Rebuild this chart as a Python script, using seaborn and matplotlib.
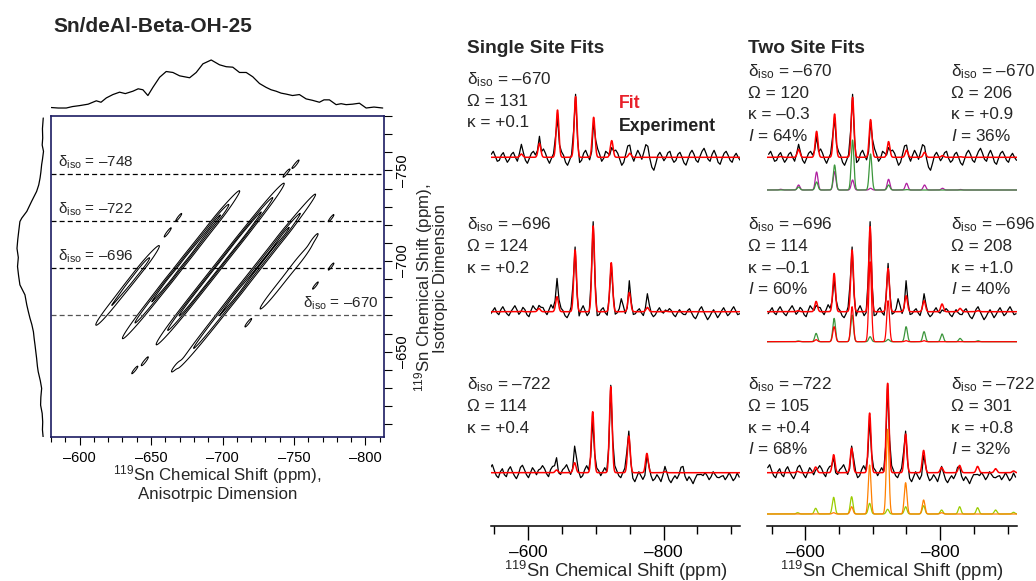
import numpy as np
import pandas as pd
import matplotlib
matplotlib.use("Agg")
import matplotlib.pyplot as plt
import seaborn as sns

sns.set_theme(style="white")
plt.rcParams["font.family"] = ["Liberation Sans", "DejaVu Sans"]
plt.rcParams["mathtext.fontset"] = "custom"
plt.rcParams["mathtext.rm"] = "Liberation Sans"
plt.rcParams["mathtext.it"] = "Liberation Sans:italic"
plt.rcParams["mathtext.bf"] = "Liberation Sans:bold"
plt.rcParams["axes.unicode_minus"] = False

# ---------------- data ----------------
title = "Sn/deAl-Beta-OH-25"

# 2D PASS spectrum: isotropic slices and sideband ridges
iso_lines = [-748, -722, -696, -670]
ridge_offset = [53, 27, 0, -28, -53]          # anisotropic - isotropic shift (ppm)
ridge_amp = [0.45, 0.80, 1.00, 0.75, 0.32]
ridge_iso_center = [-686.5, -698, -698.4, -689, -691.5]
ridge_iso_half = [21.4, 35.9, 38, 42.6, 19.2]
# local intensity lumps along the ridges (ridge index, isotropic shift, extra intensity)
knot_ridge = [0, 0, 1, 1, 1, 2, 3, 3, 4]
knot_iso = [-697, -688, -689.5, -702.5, -724.6, -712, -716, -682, -700]
knot_amp = [0.16, 0.12, 0.18, 0.12, 0.16, 0.1, 0.16, 0.14, 0.08]
blob_x = [-751.5, -744.5, -669.5, -661.8, -776.0, -764.3, -776.0, -765.0, -717.7, -666.9, -645.5, -638.5]
blob_y = [-753.7, -748.4, -724.3, -716.0, -723.7, -712.7, -697.0, -686.5, -665.7, -641.7, -644.5, -639.9]
contour_levels = [0.15, 0.42, 0.72]

top_ppm = [-580.2, -585, -590.7, -595, -600, -606, -611.7, -615, -618.7, -623.3, -628, -632, -637.3,
           -641, -644.3, -647.8, -651.3, -656, -660.6, -665.3, -670, -677, -681.6, -686.3, -692.1,
           -697.9, -702.6, -707.2, -711.9, -716.6, -721.2, -725.9, -730.5, -734, -737.5, -741,
           -744.5, -749, -753.8, -758.5, -763, -767.8, -771, -774.8, -779.5, -783, -786.5, -791,
           -795.8, -800.5, -806, -812.1]
top_int = [0.01, 0.0, 0.0, 0.03, 0.05, 0.08, 0.15, 0.12, 0.21, 0.28, 0.33, 0.30, 0.35,
           0.40, 0.38, 0.26, 0.43, 0.64, 0.76, 0.74, 0.67, 0.63, 0.74, 0.92, 1.0,
           0.90, 0.86, 0.85, 0.74, 0.74, 0.65, 0.51, 0.43, 0.38, 0.35, 0.31,
           0.29, 0.26, 0.28, 0.19, 0.16, 0.12, 0.17, 0.17, 0.07, 0.09, 0.07, 0.08,
           0.10, 0.0, 0.02, 0.0]

left_ppm = [-778.9, -773, -767.9, -764, -760.5, -756, -753.2, -749, -745.8, -742, -738.4, -732.9,
            -727.4, -723.7, -721.8, -717, -712, -707, -702, -697, -692, -686.9, -681.4, -675.8,
            -672, -668.5, -665, -661, -657, -653.7, -650, -646.4, -642, -639, -634, -629.8,
            -625, -620.6, -616, -611.3, -607, -602.2]
left_int = [0.01, 0.04, 0.03, 0.05, 0.0, 0.04, 0.07, 0.10, 0.13, 0.18, 0.26, 0.45,
            0.63, 0.82, 0.89, 0.93, 0.97, 1.0, 0.95, 0.98, 0.94, 0.89, 0.70, 0.63,
            0.57, 0.51, 0.44, 0.38, 0.35, 0.32, 0.29, 0.26, 0.23, 0.20, 0.12, 0.07,
            0.10, 0.11, 0.05, 0.03, 0.04, 0.01]

x2d_major = [-600, -650, -700, -750, -800]
y2d_major = [-650, -700, -750]

# 1D slices: spinning sideband intensities, orders +5 ... -7
sideband_spacing = 26.7
line_sigma = 2.0
orders = [5, 4, 3, 2, 1, 0, -1, -2, -3, -4, -5, -6, -7]
row_iso = [-670, -696, -722]

single_omega = [131, 124, 114]
single_kappa = ["+0.1", "+0.2", "+0.4"]
single_int = [
    [0, 0, 3.3, 14, 47.3, 60.7, 40, 16.7, 4, 0, 0, 0, 0],
    [0, 0.5, 3.3, 15, 61.7, 85.7, 49, 19.3, 4.3, 0.5, 0, 0, 0],
    [0, 0, 2.7, 10, 61, 86, 36.7, 19.3, 1, 0, 0, 0, 0],
]
site1_omega = [120, 114, 105]
site1_kappa = ["–0.3", "–0.1", "+0.4"]
site1_pop = [64, 60, 68]
site1_int = [
    [0, 0, 3, 8, 25, 50, 36, 5, 0.5, 0, 0, 0, 0],
    [0, 0.3, 2, 15, 35, 80, 41, 1, 1, 0, 0, 0, 0],
    [0, 0, 1.3, 7.3, 49, 84.7, 31.3, 14, 1.3, 0, 0, 0, 0],
]
site2_omega = [206, 208, 301]
site2_kappa = ["+0.9", "+1.0", "+0.8"]
site2_pop = [36, 40, 32]
site2_int = [
    [0, 0.7, 5, 18, 18.3, 10, 1.7, 10.7, 6.7, 5, 1.7, 0.5, 0],
    [0, 0.7, 8.3, 23.3, 26.7, 5, 2.3, 15, 10, 7.7, 3.3, 1, 0],
    [1.3, 5.7, 16.7, 17.3, 10.7, 4.7, 7.3, 8.3, 4, 7.3, 6.3, 4, 1.7],
]
site1_color = ["#3c963c", "#ff0000", "#ff8000"]
site2_color = ["#b01fa0", "#3c963c", "#9acd00"]

# experimental residual (experiment minus two-site fit), one value per sample
exp_noise = [
    [3, 6, 1, -4, -3, 2, 4, -1, -5, -2, 3, 5, 0, -4, 1, 5, 2, -3, -6, -1, 4, 6, 2, -2, -5,
     -3, 8, 4, -2, -6, -1, 3, 6, -4, -2, 5, 2, -5, -8, -3, 2, 6, 3, -2, -6, -3, 4, 7, 2, -3,
     -7, -2, 5, 8, 3, -4, -1, 6, 4, -3, -6, 1, 7, 4, -2, -8, -5, 3, 9, 5, -1, -4, 2, 7, 3,
     -2, 5, 11, 6, -3, -10, -13, -6, 2, 5, 1, -4, -2, 4, 6, -1, -5, -3, 3, 5, 0, -6, -8, -2, 4,
     7, 3, -3, -5, 1, 6, 9, 4, -2, -4, 3, 7, 2, -5, -7, -1, 4, 6, 2, -3, -5, 1, 4, 0, -3],
    [-2, 1, 4, -1, -3, 2, 5, 1, -2, -4, 0, 3, 6, 2, -3, -1, 4, 2, -3, -5, 1, 6, 3, -2, -4,
     1, 4, 0, -3, 2, 7, 3, -2, -5, -1, 3, 1, -4, -6, -2, 4, 8, 3, -3, -5, 2, 6, 1, -4, -2,
     3, 5, 0, -5, -3, 2, 4, -1, -4, 1, 5, 2, -3, -1, 3, 13, 6, -2, -1, 15, 4, -3, -2, 1, 3,
     -1, -4, 0, 7, 3, -2, -5, -3, 1, 4, 0, -4, -6, -2, 3, 1, -3, -5, -1, 2, -2, -6, -4, 1, 3,
     -1, -5, -7, -3, 2, 4, 0, -4, -8, -5, -1, 2, -2, -6, -3, 1, 4, 0, -4, -2, 2, 5, 1, -3, -2],
    [5, 8, 2, -3, -5, 1, 4, -2, -4, 3, 6, 1, -3, -6, -2, 4, 7, 3, -2, -5, 0, 5, 2, -4, -3,
     2, 7, 4, -1, -4, 3, 6, 1, -3, -6, -2, 3, 5, 8, 3, -2, -4, 2, 6, 1, -5, -3, 3, 7, 2,
     -4, -6, -1, 4, 2, -3, 1, 5, 0, -4, -2, 3, 6, 2, -3, -5, 0, 4, 8, 3, -2, -6, -9, -4, 1,
     -3, -7, -10, -5, 0, -3, -8, -6, -2, -5, -9, -4, 1, -2, -7, -10, -6, -3, -6, -2, 3, -1, -6, -8, -4,
     -7, -11, -6, -2, -4, -8, -5, 0, -3, -7, -4, 1, -2, -6, -9, -5, -3, -7, -4, 0, -4, -8, -6, -2, -5],
]
spec_major = [-600, -800]
spec_minor = [-550, -650, -700, -750, -850, -900]


def dash(v):
    return ("–" if v < 0 else "") + str(abs(v))


# ---------------- layout helpers ----------------
W, H = 1036, 581
fig = plt.figure(figsize=(W / 100, H / 100), dpi=100)


def px_axes(l, t, r, b):
    return fig.add_axes([l / W, 1 - b / H, (r - l) / W, (b - t) / H])


def ftext(x, y, s, **kw):
    kw.setdefault("va", "baseline")
    return fig.text(x / W, 1 - y / H, s, **kw)


def draw(ax, x, y, color, lw):
    sns.lineplot(x=np.asarray(x), y=np.asarray(y), ax=ax, color=color, lw=lw,
                 sort=False, estimator=None, legend=False)


# ---------------- 2D contour panel ----------------
navy = "#1c1c62"
ax2d = px_axes(51, 116, 384, 437)
xg = np.linspace(-813, -580, 800)
yg = np.linspace(-780, -603, 620)
X, Y = np.meshgrid(xg, yg)
U = X - Y
V = (X + Y) / 2
Z = np.zeros_like(X)
SU = 1.7
for off, a, yc, hy in zip(ridge_offset, ridge_amp, ridge_iso_center, ridge_iso_half):
    Z += a * np.exp(-0.5 * ((U - off) / SU) ** 2) * np.exp(-((Y - yc) / hy) ** 4)
for ri, ky, ka in zip(knot_ridge, knot_iso, knot_amp):
    Z += ka * np.exp(-0.5 * ((U - ridge_offset[ri]) / SU) ** 2 - 0.5 * ((Y - ky) / 4.0) ** 2)
for bx, by in zip(blob_x, blob_y):
    Z += 0.2 * np.exp(-0.5 * ((U - (bx - by)) / 1.0) ** 2 - 0.5 * ((V - (bx + by) / 2) / 2.6) ** 2)
ax2d.contour(X, Y, Z, levels=contour_levels, colors="black", linewidths=0.75)
for v in iso_lines:
    ax2d.axhline(v, color="#555555" if v == -670 else "black", lw=0.9, ls=(0, (4, 2.5)))
label_x = [-584.6, -584.6, -584.6, -756.6]
for v, lx in zip(iso_lines, label_x):
    ax2d.text(lx, v - 4.3, "δ$_{\\rm iso}$ = " + dash(v), fontsize=11, va="baseline", ha="left")
ax2d.set_xlim(-580, -813)
ax2d.set_ylim(-603, -780)
ax2d.set_xticks(x2d_major)
ax2d.set_xticklabels([dash(v) for v in x2d_major])
ax2d.set_xticks(np.arange(-580, -811, -10), minor=True)
ax2d.yaxis.tick_right()
ax2d.set_yticks(y2d_major)
ax2d.set_yticklabels([dash(v) for v in y2d_major], rotation=90, va="center")
ax2d.set_yticks(np.arange(-610, -781, -10), minor=True)
ax2d.tick_params(axis="x", which="both", bottom=True, top=False, direction="out",
                 colors="black", labelsize=10.5, width=0.8, pad=4)
ax2d.tick_params(axis="x", which="major", length=5.8)
ax2d.tick_params(axis="x", which="minor", length=3.6)
ax2d.tick_params(axis="y", which="both", right=True, left=False, labelright=True, labelleft=False,
                 direction="out", colors="black", labelsize=10.5, width=0.8, length=5.5, pad=3)
for s in ax2d.spines.values():
    s.set_color(navy)
    s.set_linewidth(1.2)
    s.set_visible(True)

ftext(217.5, 480, "$^{119}$Sn Chemical Shift (ppm),", ha="center", fontsize=12.2)
ftext(217.5, 499.3, "Anisotrpic Dimension", ha="center", fontsize=12.2)
ftext(424, 287.5, "$^{119}$Sn Chemical Shift (ppm),", ha="center", va="center", rotation=90, fontsize=12.2)
ftext(441, 278, "Isotropic Dimension", ha="center", va="center", rotation=90, fontsize=12.2)

# projections
axT = px_axes(51, 56, 384, 112)
draw(axT, top_ppm, top_int, "black", 0.9)
axT.set_xlim(-580, -813)
axT.set_ylim(-0.083, 1.083)
axT.axis("off")

axL = px_axes(15, 116, 46, 437)
draw(axL, left_int, left_ppm, "black", 0.9)
axL.set_xlim(1.075, -0.094)
axL.set_ylim(-603, -780)
axL.axis("off")

ftext(53, 31.7, title, fontsize=15, fontweight="bold")

# ---------------- 1D slice panels ----------------
def spec(x, iso, ints):
    out = np.zeros_like(x, dtype=float)
    for n, a in zip(orders, ints):
        out += a * np.exp(-0.5 * ((x - (iso + sideband_spacing * n)) / line_sigma) ** 2)
    return out


AX_BOTTOM = 526
fit_base = [157.3, 311.7, 472.7]
comp_base = [190, 341.7, 514]

axS = px_axes(491, 30, 740, AX_BOTTOM)
axD = px_axes(767, 30, 1017, AX_BOTTOM)
x_fine = np.linspace(-540, -920, 2400)
step = sideband_spacing / 9

for r, iso in enumerate(row_iso):
    noise = np.asarray(exp_noise[r], dtype=float)
    kmax = int(np.floor((-543 - iso) / step))
    xe = iso + step * (kmax - np.arange(len(noise)))
    exp_y = spec(xe, iso, site1_int[r]) + spec(xe, iso, site2_int[r]) + noise
    yb = AX_BOTTOM - fit_base[r]
    cb = AX_BOTTOM - comp_base[r]
    # single site
    draw(axS, xe, yb + exp_y, "black", 0.9)
    draw(axS, x_fine, yb + spec(x_fine, iso, single_int[r]), "#ff0000", 1.1)
    # two site
    s1 = spec(x_fine, iso, site1_int[r])
    s2 = spec(x_fine, iso, site2_int[r])
    draw(axD, xe, yb + exp_y, "black", 0.9)
    draw(axD, x_fine, yb + s1 + s2, "#ff0000", 1.1)
    draw(axD, x_fine, cb + s2, site2_color[r], 0.9)
    draw(axD, x_fine, cb + s1, site1_color[r], 0.9)

for ax, xl in ((axS, (-545, -913)), (axD, (-543, -914))):
    ax.set_xlim(*xl)
    ax.set_ylim(0, AX_BOTTOM - 30)
    for k in ("top", "left", "right"):
        ax.spines[k].set_visible(False)
    ax.spines["bottom"].set_color("black")
    ax.spines["bottom"].set_linewidth(1.1)
    ax.set_yticks([])
    ax.set_xticks(spec_major)
    ax.set_xticklabels([dash(v) for v in spec_major])
    ax.set_xticks(spec_minor, minor=True)
    ax.tick_params(axis="x", which="both", bottom=True, direction="out", colors="black",
                   width=1.0, labelsize=12.5, pad=4)
    ax.tick_params(axis="x", which="major", length=10)
    ax.tick_params(axis="x", which="minor", length=5.8)
    ax.set_xlabel("")
    ax.set_ylabel("")
    ax.patch.set_alpha(0)

ftext(615.5, 576.7, "$^{119}$Sn Chemical Shift (ppm)", ha="center", fontsize=13.3)
ftext(892, 576.7, "$^{119}$Sn Chemical Shift (ppm)", ha="center", fontsize=13.3)

ftext(467.3, 52.7, "Single Site Fits", fontsize=13.8, fontweight="bold")
ftext(748.3, 52.7, "Two Site Fits", fontsize=13.8, fontweight="bold")
ftext(619.3, 108.3, "Fit", fontsize=12.8, fontweight="bold", color="#e8202a")
ftext(619.3, 130.7, "Experiment", fontsize=12.8, fontweight="bold", color="#222222")

single_first = [84, 229.3, 389.3]
two_first = [76, 229.3, 389.3]
LS = 21.7
PFS = 12.3
for r, iso in enumerate(row_iso):
    lines = ["δ$_{\\rm iso}$ = " + dash(iso), "Ω = %d" % single_omega[r], "κ = " + single_kappa[r]]
    for j, s in enumerate(lines):
        ftext(467.3, single_first[r] + LS * j, s, fontsize=PFS)
    for xx, om, ka, pp in ((748.3, site1_omega[r], site1_kappa[r], site1_pop[r]),
                           (951, site2_omega[r], site2_kappa[r], site2_pop[r])):
        lines = ["δ$_{\\rm iso}$ = " + dash(iso), "Ω = %d" % om, "κ = " + ka, "$I$ = %d%%" % pp]
        for j, s in enumerate(lines):
            ftext(xx, two_first[r] + LS * j, s, fontsize=PFS)

fig.savefig("out.png", dpi=100)
